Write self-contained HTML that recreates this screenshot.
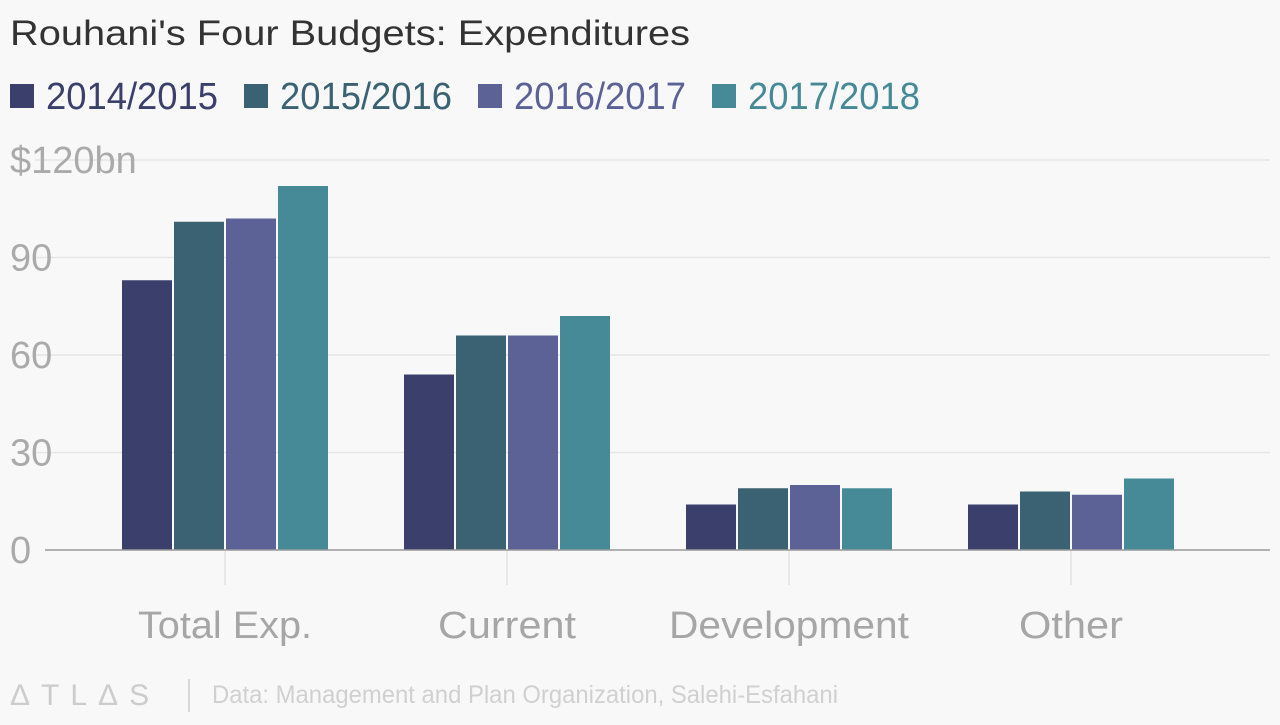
<!DOCTYPE html>
<html><head><meta charset="utf-8"><style>
body{margin:0;background:#f8f8f8;width:1280px;height:720px;overflow:hidden;font-family:"Liberation Sans",sans-serif}
</style></head><body>
<svg id="c" width="1280" height="720" xmlns="http://www.w3.org/2000/svg">
<rect width="1280" height="720" fill="#f8f8f8"/>
<text x="10" y="45" font-size="35" fill="#333" textLength="680" lengthAdjust="spacingAndGlyphs">Rouhani's Four Budgets: Expenditures</text>
<g id="legend"></g>
<g id="grid"></g><g id="bars"></g><g id="xaxis"></g>
<g fill="#d0d0d0" font-size="25">
<text x="10" y="705" font-size="30" letter-spacing="11" fill="#ccc">ΔTLΔS</text>
<line x1="189" y1="679" x2="189" y2="712" stroke="#ccc" stroke-width="1.5"/>
<text x="212" y="703" textLength="626" lengthAdjust="spacingAndGlyphs">Data: Management and Plan Organization, Salehi-Esfahani</text>
</g>
</svg>
<script>
const categories=["Total Exp.","Current","Development","Other"];
const seriesNames=["2014/2015","2015/2016","2016/2017","2017/2018"];
const s2014=[83,54,14,14];
const s2015=[101,66,19,18];
const s2016=[102,66,20,17];
const s2017=[112,72,19,22];
const yTicks=[0,30,60,90,120];
const yTickLabels=["0","30","60","90","$120bn"];
const colors=["#3b3f6b","#3b6272","#5c6296","#468a98"];
const series=[s2014,s2015,s2016,s2017];
const NS="http://www.w3.org/2000/svg";
const y=v=>550-v*3.25;
const xc=i=>225+i*282;
function mk(t,a,p){const e=document.createElementNS(NS,t);for(const k in a)e.setAttribute(k,a[k]);p.appendChild(e);return e;}
const grid=document.getElementById('grid');
yTicks.forEach((t,i)=>{
 if(t>0){const l=mk('line',{x1:35,x2:1270,y1:y(t),y2:y(t),stroke:'#e6e6e6','stroke-width':1.5},grid);
 
 }
 const tx=mk('text',{x:10,y:y(t)+13,'font-size':38,fill:'#aaa'},grid);
 tx.textContent=yTickLabels[i];
 
 
});
const bars=document.getElementById('bars');
series.forEach((s,j)=>s.forEach((v,i)=>{
 const r=mk('rect',{x:xc(i)-103+j*52,y:y(v),width:50,height:550-y(v),fill:colors[j]},bars);
 
 
}));
const xa=document.getElementById('xaxis');
const base=mk('line',{x1:45,x2:1270,y1:550,y2:550,stroke:'#999','stroke-width':1.5},xa);


const labW=[174,138,240,104];
categories.forEach((c,i)=>{
 const tk=mk('line',{x1:xc(i),x2:xc(i),y1:551,y2:585,stroke:'#e2e2e2','stroke-width':1.5},xa);
 
 
 const t=mk('text',{x:xc(i),y:638,'font-size':38,fill:'#a6a6a6','text-anchor':'middle',textLength:labW[i],lengthAdjust:'spacingAndGlyphs'},xa);
 t.textContent=c;
 
 
});
const lg=document.getElementById('legend');
const lx=[10,244,478,712];
seriesNames.forEach((n,j)=>{
 const r=mk('rect',{x:lx[j],y:84,width:24,height:24,fill:colors[j]},lg);
 
 
 const t=mk('text',{x:lx[j]+36,y:109,'font-size':38,fill:colors[j],textLength:172,lengthAdjust:'spacingAndGlyphs'},lg);
 t.textContent=n;
 
 
});
</script>
</body></html>
